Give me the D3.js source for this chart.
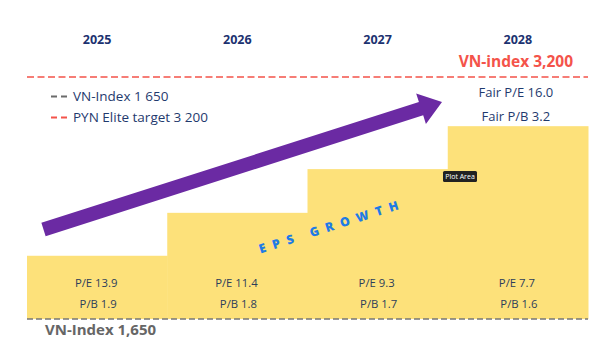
<!DOCTYPE html>
<html><head><meta charset="utf-8">
<script src="https://cdn.jsdelivr.net/npm/d3@7"></script>
<style>body{margin:0;background:#fff}svg{display:block}</style>
</head><body>
<script>
const years = ["2025","2026","2027","2028"];
const impliedIndex = [2055, 2330, 2610, 2885];
const peLabels = ["P/E 13.9","P/E 11.4","P/E 9.3","P/E 7.7"];
const pbLabels = ["P/B 1.9","P/B 1.8","P/B 1.7","P/B 1.6"];
const baseIndex = 1650;
const targetIndex = 3200;
const fairLabels = ["Fair P/E 16.0","Fair P/B 3.2"];
const legendItems = [{label:"VN-Index 1 650", color:"#6b6b6b"},{label:"PYN Elite target 3 200", color:"#f4534a"}];

const W=598,H=356;
const svg=d3.select("body").append("svg").attr("width",W).attr("height",H);
const font="'Open Sans', sans-serif";
const x=d3.scaleBand().domain(years).range([27,588]).padding(0);
const y=d3.scaleLinear().domain([baseIndex,targetIndex]).range([319,77]);

// bars
svg.selectAll("rect.bar").data(years).join("rect").attr("class","bar")
  .attr("x",d=>x(d)).attr("width",x.bandwidth()+0.5)
  .attr("y",(d,i)=>y(impliedIndex[i])).attr("height",(d,i)=>y(baseIndex)-y(impliedIndex[i]))
  .attr("fill","#fde17a");

// year labels
svg.selectAll("text.year").data(years).join("text")
  .attr("x",d=>x(d)+x.bandwidth()/2).attr("y",44).attr("text-anchor","middle")
  .attr("font-family",font).attr("font-weight",700).attr("font-size",12.5).attr("fill","#1c3270")
  .text(d=>d);

// reference lines
svg.append("line").attr("x1",27).attr("x2",588).attr("y1",y(targetIndex)).attr("y2",y(targetIndex))
  .attr("stroke","#f4534a").attr("stroke-width",1.5).attr("stroke-dasharray","7 3.5");
svg.append("line").attr("x1",27).attr("x2",588).attr("y1",y(baseIndex)).attr("y2",y(baseIndex))
  .attr("stroke","#777").attr("stroke-width",1.5).attr("stroke-dasharray","6 3");

// target label
svg.append("text").attr("x",x("2028")+x.bandwidth()/2-2).attr("y",67).attr("text-anchor","middle")
  .attr("font-family",font).attr("font-weight",700).attr("font-size",15.5).attr("fill","#f4534a")
  .text("VN-index 3,200");
svg.selectAll("text.fair").data(fairLabels).join("text")
  .attr("x",x("2028")+x.bandwidth()/2-2).attr("y",(d,i)=>97+i*24).attr("text-anchor","middle")
  .attr("font-family",font).attr("font-size",13).attr("fill","#1f3a6e").text(d=>d);

// base label
svg.append("text").attr("x",45).attr("y",335)
  .attr("font-family",font).attr("font-weight",700).attr("font-size",15).attr("fill","#666")
  .text("VN-Index 1,650");

// legend
const lg=svg.selectAll("g.lg").data(legendItems).join("g").attr("transform",(d,i)=>`translate(51,${101+i*21})`);
lg.append("line").attr("x1",0).attr("x2",18).attr("y1",-4.5).attr("y2",-4.5)
  .attr("stroke",d=>d.color).attr("stroke-width",2).attr("stroke-dasharray","6 4");
lg.append("text").attr("x",22).attr("y",0).attr("font-family",font).attr("font-size",13.5)
  .attr("fill","#1f3a6e").text(d=>d.label);

// P/E, P/B labels
svg.selectAll("text.pe").data(peLabels).join("text")
  .attr("x",(d,i)=>x(years[i])+x.bandwidth()/2-1).attr("y",287).attr("text-anchor","middle")
  .attr("font-family",font).attr("font-size",11.3).attr("fill","#2d3e5a").text(d=>d);
svg.selectAll("text.pb").data(pbLabels).join("text")
  .attr("x",(d,i)=>x(years[i])+x.bandwidth()/2+1).attr("y",308).attr("text-anchor","middle")
  .attr("font-family",font).attr("font-size",11.3).attr("fill","#2d3e5a").text(d=>d);

// arrow
const tail=[43.5,229.5], tip=[442,102];
const dx=tip[0]-tail[0], dy=tip[1]-tail[1];
const len=Math.hypot(dx,dy), ang=Math.atan2(dy,dx)*180/Math.PI;
const hw=7, headL=22, headW=16;
svg.append("path")
  .attr("d",`M0,${-hw} L${len-headL},${-hw} L${len-headL},${-headW} L${len},0 L${len-headL},${headW} L${len-headL},${hw} L0,${hw} Z`)
  .attr("fill","#6b2aa3")
  .attr("transform",`translate(${tail[0]},${tail[1]}) rotate(${ang})`);

// EPS GROWTH
svg.append("text").attr("transform",`translate(332,226) rotate(${ang})`)
  .attr("text-anchor","middle").attr("dy","0.35em")
  .attr("font-family",font).attr("font-weight",800).attr("font-size",12.5)
  .attr("letter-spacing",7).attr("fill","#1e7be6").text("EPS GROWTH");

// tooltip
const tt=svg.append("g").attr("transform","translate(443,171)");
tt.append("rect").attr("width",34).attr("height",11).attr("rx",1.5).attr("fill","#222");
tt.append("text").attr("x",17).attr("y",8).attr("text-anchor","middle")
  .attr("font-family",font).attr("font-size",7).attr("fill","#fff").text("Plot Area");
</script>
</body></html>
